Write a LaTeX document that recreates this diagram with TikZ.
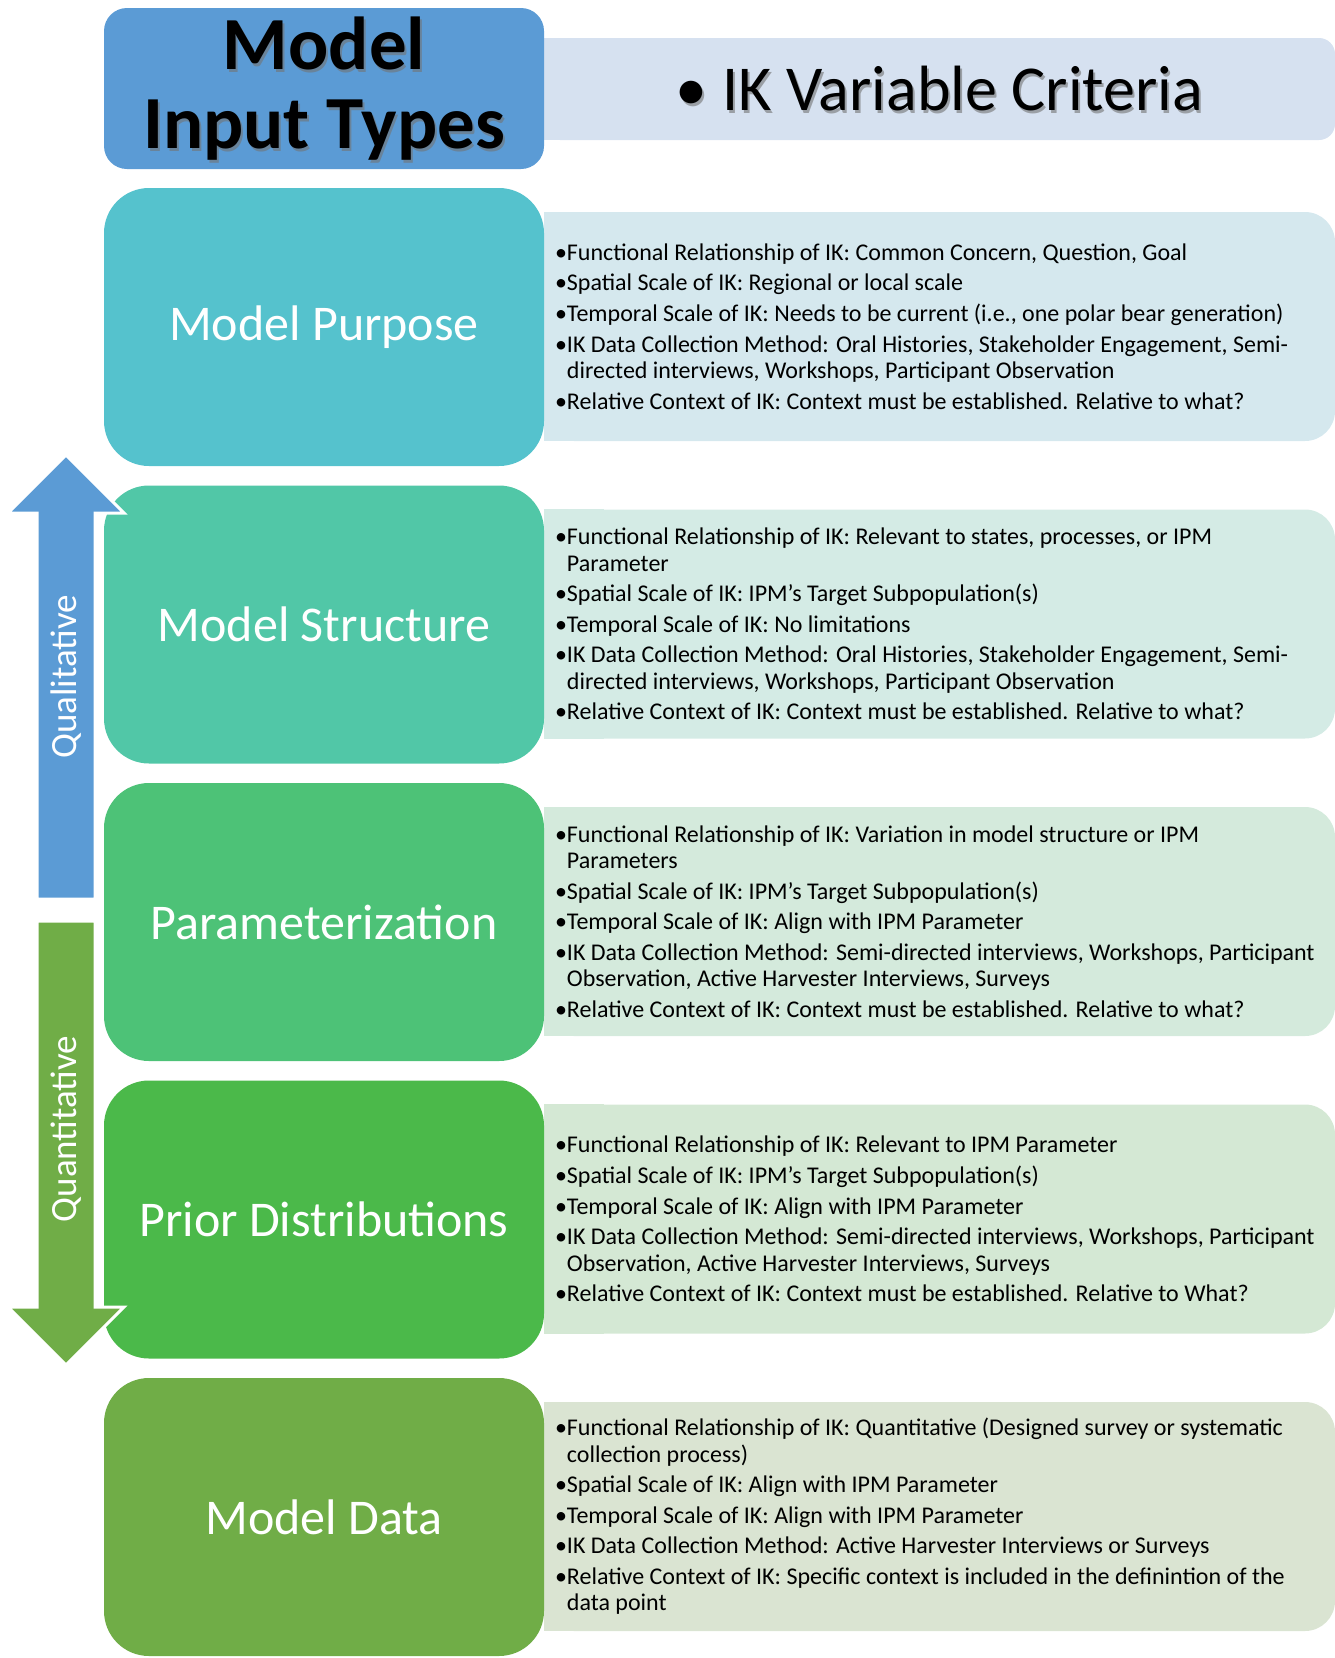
\documentclass[tikz,border=0pt]{standalone}
\usepackage{fontspec}
\setmainfont{Carlito}
\definecolor{cHead}{HTML}{5B9BD5}
\definecolor{cHeadL}{HTML}{D6E1F0}
\definecolor{cPurpose}{HTML}{55C2CD}
\definecolor{cPurposeL}{HTML}{D5E8EE}
\definecolor{cStruct}{HTML}{51C7A7}
\definecolor{cStructL}{HTML}{D4EBE5}
\definecolor{cParam}{HTML}{4DC277}
\definecolor{cParamL}{HTML}{D4EADC}
\definecolor{cPrior}{HTML}{4BB94A}
\definecolor{cPriorL}{HTML}{D4E8D4}
\definecolor{cData}{HTML}{70AD47}
\definecolor{cDataL}{HTML}{DAE4D2}
\newcommand\bl{\textbullet}
\newcommand\cont{\hphantom{\textbullet}}
\begin{document}
\begin{tikzpicture}[x=1pt,y=-1pt,
  inbox/.style={rounded corners=45, minimum width=440, minimum height=278,
    inner sep=0, text=white, font=\fontsize{50}{60}\selectfont},
  panel/.style={rounded corners=30, minimum width=791, minimum height=229, inner sep=0},
  itemtext/.style={anchor=west, align=left, inner sep=0,
    font=\fontsize{24}{26.4}\selectfont, text=black},
  flowarrow/.style={draw=white, line width=3, line join=miter},
  arrowlabel/.style={rotate=90, text=white, inner sep=0, font=\fontsize{37}{44}\selectfont}]
\useasboundingbox (0,0) rectangle (1335,1658);

% heading row
\node[fill=cHeadL, rounded corners=16, minimum width=791, minimum height=102, inner sep=0]
  (critP) at (939.5,89) {};
\fill[cHeadL] (critP.north west) rectangle ([xshift=60]critP.south west);
\node[fill=cHead, rounded corners=23, minimum width=440, minimum height=161, inner sep=0]
  (head) at (324,88.5) {};
\node[text=black!55, opacity=0.6, align=center, inner sep=0,
  font=\bfseries\fontsize{75}{79}\selectfont] at ([xshift=2,yshift=-3]head.center)
  {Model\\Input Types};
\node[text=black, align=center, inner sep=0, font=\bfseries\fontsize{75}{79}\selectfont]
  (headT) at (head.center) {Model\\Input Types};
\node[text=black!55, opacity=0.6, inner sep=0, font=\fontsize{64}{76}\selectfont]
  at ([xshift=2,yshift=-3]critP.center) {\bl\ IK Variable Criteria};
\node[text=black, inner sep=0, font=\fontsize{64}{76}\selectfont]
  (critT) at (critP.center) {\bl\ IK Variable Criteria};

% criteria panels (left corners squared off, hidden behind the boxes)
\foreach \nm/\c/\yy in {purposeP/cPurposeL/326.5, structP/cStructL/624,
    paramP/cParamL/921.5, priorP/cPriorL/1219, dataP/cDataL/1516.5}{
  \node[panel, fill=\c] (\nm) at (939.5,\yy) {};
  \fill[\c] (\nm.north west) rectangle ([xshift=60]\nm.south west);
}

% model input type boxes
\node[inbox, fill=cPurpose] (purpose) at (324,327) {Model Purpose};
\node[inbox, fill=cStruct]  (struct)  at (324,624.5) {Model Structure};
\node[inbox, fill=cParam]   (param)   at (324,922) {Parameterization};
\node[inbox, fill=cPrior]   (prior)   at (324,1219.5) {Prior Distributions};
\node[inbox, fill=cData]    (data)    at (324,1517) {Model Data};

% criteria text
\node[itemtext] (purposeT) at ([xshift=11]purposeP.west) {%
\bl Functional Relationship of IK: Common Concern, Question, Goal\\[4.2pt]
\bl Spatial Scale of IK: Regional or local scale\\[4.2pt]
\bl Temporal Scale of IK: Needs to be current (i.e., one polar bear generation)\\[4.2pt]
\bl IK Data Collection Method: Oral Histories, Stakeholder Engagement, Semi-\\
\cont directed interviews, Workshops, Participant Observation\\[4.2pt]
\bl Relative Context of IK: Context must be established. Relative to what?};

\node[itemtext] (structT) at ([xshift=11]structP.west) {%
\bl Functional Relationship of IK: Relevant to states, processes, or IPM\\
\cont Parameter\\[4.2pt]
\bl Spatial Scale of IK: IPM's Target Subpopulation(s)\\[4.2pt]
\bl Temporal Scale of IK: No limitations\\[4.2pt]
\bl IK Data Collection Method: Oral Histories, Stakeholder Engagement, Semi-\\
\cont directed interviews, Workshops, Participant Observation\\[4.2pt]
\bl Relative Context of IK: Context must be established. Relative to what?};

\node[itemtext] (paramT) at ([xshift=11]paramP.west) {%
\bl Functional Relationship of IK: Variation in model structure or IPM\\
\cont Parameters\\[4.2pt]
\bl Spatial Scale of IK: IPM's Target Subpopulation(s)\\[4.2pt]
\bl Temporal Scale of IK: Align with IPM Parameter\\[4.2pt]
\bl IK Data Collection Method: Semi-directed interviews, Workshops, Participant\\
\cont Observation, Active Harvester Interviews, Surveys\\[4.2pt]
\bl Relative Context of IK: Context must be established. Relative to what?};

\node[itemtext] (priorT) at ([xshift=11]priorP.west) {%
\bl Functional Relationship of IK: Relevant to IPM Parameter\\[4.2pt]
\bl Spatial Scale of IK: IPM's Target Subpopulation(s)\\[4.2pt]
\bl Temporal Scale of IK: Align with IPM Parameter\\[4.2pt]
\bl IK Data Collection Method: Semi-directed interviews, Workshops, Participant\\
\cont Observation, Active Harvester Interviews, Surveys\\[4.2pt]
\bl Relative Context of IK: Context must be established. Relative to What?};

\node[itemtext] (dataT) at ([xshift=11]dataP.west) {%
\bl Functional Relationship of IK: Quantitative (Designed survey or systematic\\
\cont collection process)\\[4.2pt]
\bl Spatial Scale of IK: Align with IPM Parameter\\[4.2pt]
\bl Temporal Scale of IK: Align with IPM Parameter\\[4.2pt]
\bl IK Data Collection Method: Active Harvester Interviews or Surveys\\[4.2pt]
\bl Relative Context of IK: Specific context is included in the definintion of the\\
\cont data point};

% qualitative / quantitative arrows
\path[flowarrow, fill=cHead] (37,899) -- (37,513) -- (8,513) -- (66,455)
  -- (124,513) -- (95,513) -- (95,899) -- cycle;
\path[flowarrow, fill=cData] (37,921) -- (37,1307) -- (8,1307) -- (66,1365)
  -- (124,1307) -- (95,1307) -- (95,921) -- cycle;
\node[arrowlabel] (qual) at (66,677) {Qualitative};
\node[arrowlabel] (quant) at (66,1129) {Quantitative};
\end{tikzpicture}
\end{document}
